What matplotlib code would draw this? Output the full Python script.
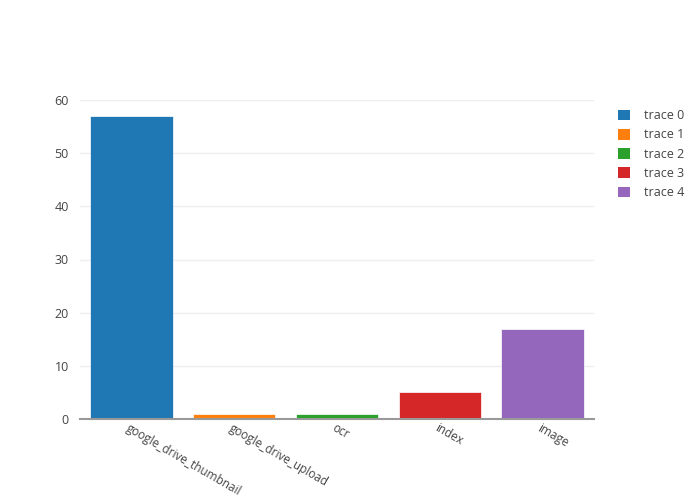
import matplotlib.pyplot as plt
import matplotlib.transforms as mtransforms
from matplotlib.patches import Patch

plt.rcParams['font.family'] = ['Open Sans', 'DejaVu Sans']

categories = ["google_drive_thumbnail", "google_drive_upload", "ocr", "index", "image"]
values = [57, 1, 1, 5, 17]
trace_names = ["trace 0", "trace 1", "trace 2", "trace 3", "trace 4"]
colors = ["#1f77b4", "#ff7f0e", "#2ca02c", "#d62728", "#9467bd"]

fig = plt.figure(figsize=(7, 5), dpi=100)
ax = fig.add_axes([80/700, 81/500, 514/700, 319/500])

x = list(range(len(categories)))
for i, v in enumerate(values):
    ax.bar(i, v, width=0.8, color=colors[i], edgecolor="white", linewidth=0.5, zorder=3)

ax.set_xlim(-0.5, len(categories) - 0.5)
ax.set_ylim(0, 60)
ax.set_yticks([0, 10, 20, 30, 40, 50, 60])
ax.yaxis.grid(True, color="#eeeeee", linewidth=1, zorder=0)
ax.set_xticks(x)
ax.set_xticklabels(categories, rotation=-30, ha="left", rotation_mode="anchor")
ax.tick_params(axis="x", length=0, pad=2, labelsize=8.5, labelcolor="#444444")
ax.tick_params(axis="y", length=0, pad=8, labelsize=9, labelcolor="#444444")

for s in ["top", "right", "left"]:
    ax.spines[s].set_visible(False)
ax.spines["bottom"].set_color("#999999")
ax.spines["bottom"].set_linewidth(1.5)
ax.spines["bottom"].set_zorder(4)

# nudge rotated labels so they start just left of the tick, like plotly
offset = mtransforms.ScaledTranslation(-1/100, 0, fig.dpi_scale_trans)
for lbl in ax.get_xticklabels():
    lbl.set_transform(lbl.get_transform() + offset)

handles = [Patch(facecolor=c, edgecolor="none") for c in colors]
fig.legend(handles, trace_names, loc="upper left", bbox_to_anchor=(612/700, 1 - 103/500),
           frameon=False, fontsize=9, labelcolor="#444444", handlelength=0.95,
           handleheight=0.95, handletextpad=1.1, labelspacing=0.5, borderpad=0)

fig.savefig("out.png", dpi=100)
